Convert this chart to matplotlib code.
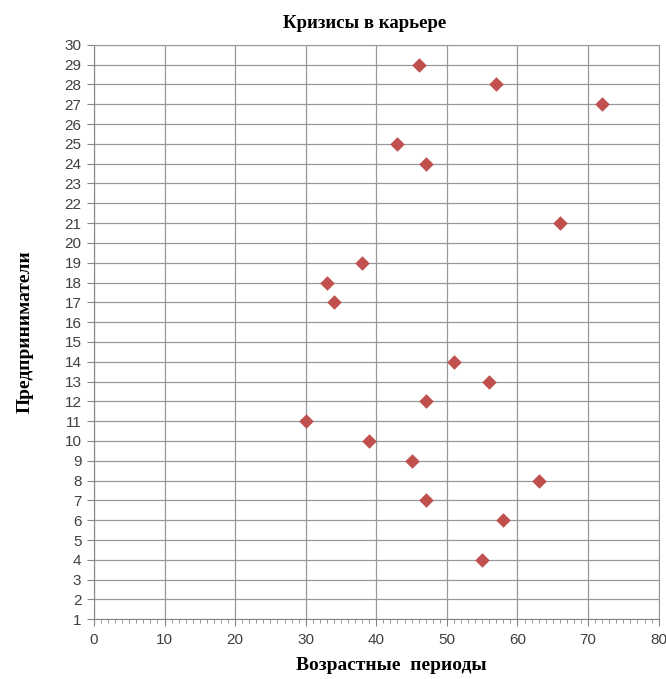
import matplotlib.pyplot as plt
from matplotlib.ticker import MultipleLocator

# Data
ages = [55, 58, 47, 63, 45, 39, 30, 47, 56, 51, 34, 33, 38, 66, 47, 43, 72, 57, 46]
entrepreneurs = [4, 6, 7, 8, 9, 10, 11, 12, 13, 14, 17, 18, 19, 21, 24, 25, 27, 28, 29]

title = "Кризисы в карьере"
x_label = "Возрастные  периоды"
y_label = "Предприниматели"

fig = plt.figure(figsize=(6.66, 6.79), dpi=100)
ax = fig.add_axes([0.141, 0.088, 0.848, 0.846])

ax.scatter(ages, entrepreneurs, marker="D", s=55, color="#C0504D", zorder=3, linewidths=0)

ax.set_xlim(0, 80)
ax.set_ylim(1, 30)
ax.xaxis.set_major_locator(MultipleLocator(10))
ax.xaxis.set_minor_locator(MultipleLocator(1))
ax.yaxis.set_major_locator(MultipleLocator(1))

ax.grid(True, which="major", color="#989898", linewidth=0.9)
ax.set_axisbelow(True)

for side in ["top", "right"]:
    ax.spines[side].set_color("#989898")
for side in ["left", "bottom"]:
    ax.spines[side].set_color("#868686")

ax.tick_params(axis="x", which="major", direction="out", length=5, color="#868686",
               labelsize=11, labelcolor="#404040", pad=5)
ax.tick_params(axis="x", which="minor", direction="out", length=3, color="#868686")
ax.tick_params(axis="y", which="major", direction="out", length=5, color="#868686",
               labelsize=11, labelcolor="#404040", pad=4)

for lab in ax.get_xticklabels() + ax.get_yticklabels():
    lab.set_family("Liberation Sans")

ax.set_title(title, family="Liberation Serif", fontweight="bold", fontsize=13.5, pad=12, x=0.479)
ax.set_xlabel(x_label, family="Liberation Serif", fontweight="bold", fontsize=14, labelpad=7, x=0.527)
ax.set_ylabel(y_label, family="Liberation Serif", fontweight="bold", fontsize=14, labelpad=22)

fig.savefig("out.png", dpi=100)
